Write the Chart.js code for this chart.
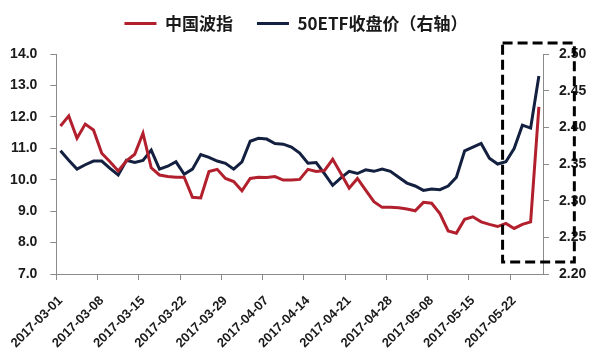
<!DOCTYPE html>
<html>
<head>
<meta charset="utf-8">
<script src="https://cdn.jsdelivr.net/npm/chart.js@4.4.1/dist/chart.umd.min.js"></script>
<style>
  html, body { margin: 0; padding: 0; background: #ffffff; }
  #wrap { width: 592px; height: 356px; position: relative; }
</style>
</head>
<body>
<div id="wrap"><canvas id="c" width="592" height="356"></canvas></div>
<script>
// ---- data ----
const dates = [
  '2017-03-01','2017-03-02','2017-03-03','2017-03-06','2017-03-07','2017-03-08','2017-03-09','2017-03-10',
  '2017-03-13','2017-03-14','2017-03-15','2017-03-16','2017-03-17','2017-03-20','2017-03-21','2017-03-22',
  '2017-03-23','2017-03-24','2017-03-27','2017-03-28','2017-03-29','2017-03-30','2017-03-31','2017-04-05',
  '2017-04-06','2017-04-07','2017-04-10','2017-04-11','2017-04-12','2017-04-13','2017-04-14','2017-04-17',
  '2017-04-18','2017-04-19','2017-04-20','2017-04-21','2017-04-24','2017-04-25','2017-04-26','2017-04-27',
  '2017-04-28','2017-05-02','2017-05-03','2017-05-04','2017-05-05','2017-05-08','2017-05-09','2017-05-10',
  '2017-05-11','2017-05-12','2017-05-15','2017-05-16','2017-05-17','2017-05-18','2017-05-19','2017-05-22',
  '2017-05-23','2017-05-24','2017-05-25'
];
const ivixValues = [
  11.71, 12.03, 11.32, 11.77, 11.58, 10.84, 10.57, 10.28, 10.60, 10.81,
  11.48, 10.38, 10.15, 10.10, 10.08, 10.08, 9.44, 9.42, 10.26, 10.33,
  10.04, 9.94, 9.65, 10.04, 10.08, 10.07, 10.10, 9.99, 9.99, 10.01,
  10.33, 10.26, 10.29, 10.65, 10.20, 9.73, 10.04, 9.67, 9.30, 9.12,
  9.12, 9.11, 9.07, 9.01, 9.28, 9.25, 8.92, 8.37, 8.30, 8.74,
  8.82, 8.66, 8.58, 8.51, 8.61, 8.45, 8.58, 8.66, 12.32
];
const etfValues = [
  2.368, 2.355, 2.343, 2.349, 2.354, 2.354, 2.344, 2.335, 2.355, 2.352,
  2.355, 2.369, 2.343, 2.347, 2.353, 2.336, 2.343, 2.363, 2.359, 2.354,
  2.351, 2.343, 2.353, 2.381, 2.385, 2.384, 2.378, 2.377, 2.373, 2.365,
  2.351, 2.352, 2.337, 2.321, 2.331, 2.340, 2.337, 2.342, 2.340, 2.343,
  2.340, 2.332, 2.324, 2.320, 2.314, 2.316, 2.315, 2.320, 2.332, 2.368,
  2.373, 2.378, 2.358, 2.350, 2.353, 2.371, 2.403, 2.399, 2.470
];
const seriesNames = ['中国波指', '50ETF收盘价（右轴）'];
const leftTicks = { min: 7, max: 14, step: 1 };
const rightTicks = { min: 2.20, max: 2.50, step: 0.05 };
const labelEvery = 5;

// highlight box annotation in data units (category index / left-axis value)
const highlightBox = { fromIndex: 53.6, toIndex: 62.3, topValue: 14.35, bottomValue: 7.38 };

// ---- styles ----
const RED = '#B2202E';
const NAVY = '#13203F';
const AXIS = '#8a8a8a';
const TXT = '#1a1a1a';
const numFont = "'Liberation Sans', Arial, sans-serif";
const cjkFont = "'Noto Sans CJK SC', 'Noto Sans', sans-serif";

const layoutFix = {
  id: 'layoutFix',
  beforeLayout(chart) {
    const lg = chart.legend;
    if (lg && !lg._fixed) {
      const orig = lg.fit.bind(lg);
      lg.fit = function () { orig(); this.height = 63; };
      lg._fixed = true;
    }
  }
};

const boxPlugin = {
  id: 'boxPlugin',
  afterDatasetsDraw(chart) {
    const x = chart.scales.x, y = chart.scales.y;
    const l = x.getPixelForValue(highlightBox.fromIndex);
    const r = x.getPixelForValue(highlightBox.toIndex);
    const t = y.getPixelForValue(highlightBox.topValue);
    const b = y.getPixelForValue(highlightBox.bottomValue);
    const ctx = chart.ctx;
    ctx.save();
    ctx.strokeStyle = '#000';
    ctx.lineWidth = 3;
    ctx.setLineDash([10, 5]);
    ctx.strokeRect(l, t, r - l, b - t);
    ctx.restore();
  }
};

new Chart(document.getElementById('c'), {
  type: 'line',
  data: {
    labels: dates,
    datasets: [
      { label: seriesNames[0], data: ivixValues, yAxisID: 'y', borderColor: RED, backgroundColor: RED,
        borderWidth: 3, pointRadius: 0, tension: 0 },
      { label: seriesNames[1], data: etfValues, yAxisID: 'y1', borderColor: NAVY, backgroundColor: NAVY,
        borderWidth: 3, pointRadius: 0, tension: 0 }
    ]
  },
  options: {
    responsive: false,
    animation: false,
    devicePixelRatio: 1,
    layout: { padding: { top: -9, left: 0, right: 0, bottom: 0 } },
    plugins: {
      tooltip: { enabled: false },
      legend: {
        display: true,
        position: 'top',
        labels: {
          usePointStyle: true,
          pointStyle: 'line',
          pointStyleWidth: 32,
          padding: 24,
          color: TXT,
          font: { family: cjkFont, size: 17, weight: 'bold' }
        }
      }
    },
    scales: {
      x: {
        offset: true,
        afterFit(s) { s.height = 82; },
        border: { display: true, color: AXIS, width: 1 },
        grid: {
          offset: true,
          drawOnChartArea: false,
          drawTicks: true,
          tickLength: 6,
          color: (ctx) => (ctx.index % labelEvery === 0 ? AXIS : 'rgba(0,0,0,0)')
        },
        ticks: {
          autoSkip: false,
          maxRotation: 45,
          minRotation: 45,
          padding: 13,
          color: TXT,
          font: { family: numFont, size: 13, weight: 'bold' },
          callback: (v, i) => (i % labelEvery === 0 ? dates[i] : '')
        }
      },
      y: {
        position: 'left',
        min: leftTicks.min, max: leftTicks.max,
        afterFit(s) { s.width = 56; },
        border: { display: true, color: AXIS, width: 1 },
        grid: { drawOnChartArea: false, drawTicks: true, tickLength: 6, color: AXIS },
        ticks: {
          stepSize: leftTicks.step,
          padding: 13,
          color: TXT,
          font: { family: numFont, size: 14, weight: 'bold' },
          callback: (v) => Number(v).toFixed(1)
        }
      },
      y1: {
        position: 'right',
        min: rightTicks.min, max: rightTicks.max,
        afterFit(s) { s.width = 49; },
        border: { display: true, color: AXIS, width: 1 },
        grid: { drawOnChartArea: false, drawTicks: true, tickLength: 6, color: AXIS },
        ticks: {
          stepSize: rightTicks.step,
          padding: 10,
          color: TXT,
          font: { family: numFont, size: 14, weight: 'bold' },
          callback: (v) => Number(v).toFixed(2)
        }
      }
    }
  },
  plugins: [layoutFix, boxPlugin]
});
</script>
</body>
</html>
